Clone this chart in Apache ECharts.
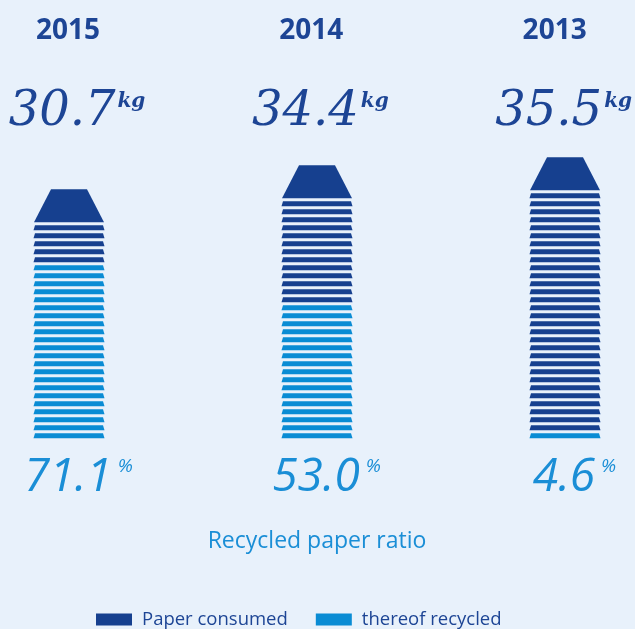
<!DOCTYPE html>
<html>
<head>
<meta charset="utf-8">
<script src="https://cdn.jsdelivr.net/npm/echarts@6/dist/echarts.min.js"></script>
<style>
  html, body { margin: 0; padding: 0; background: #e8f1fb; }
  #chart { width: 635px; height: 629px; }
</style>
</head>
<body>
<div id="chart"></div>
<script>
const years = ['2015', '2014', '2013'];
const paperKg = ['30.7', '34.4', '35.5'];
const recycledRatio = ['71.1', '53.0', '4.6'];
// number of sheets drawn in each pile
const totalSheets = [27, 30, 31];
const recycledSheets = [22, 17, 1];

const darkBlue = '#16408f';
const lightBlue = '#0a8cd4';
const textDark = '#1d4595';
const textLight = '#1a8ed6';

// one sheet = one unit on the y axis
function sheet(api, i, cx, color) {
  const t = api.coord([api.value(0), i + 1])[1];
  const b = api.coord([api.value(0), i])[1] - 3;
  return {
    type: 'polygon',
    shape: { points: [[cx - 34, t], [cx + 34, t], [cx + 35.5, b], [cx - 35.5, b]] },
    style: { fill: color }
  };
}

function renderConsumed(params, api) {
  const total = api.value(1), recycled = api.value(2);
  const cx = api.coord([api.value(0), 0])[0];
  const children = [];
  for (let i = recycled; i < total; i++) children.push(sheet(api, i, cx, darkBlue));
  // the top cover of the pile
  const b = api.coord([api.value(0), total])[1] - 3;
  children.push({
    type: 'polygon',
    shape: { points: [[cx - 18, b - 33], [cx + 18, b - 33], [cx + 35, b], [cx - 35, b]] },
    style: { fill: darkBlue }
  });
  return { type: 'group', children: children };
}

function renderRecycled(params, api) {
  const n = api.value(1);
  const cx = api.coord([api.value(0), 0])[0];
  const children = [];
  for (let i = 0; i < n; i++) children.push(sheet(api, i, cx, lightBlue));
  return { type: 'group', children: children };
}

const chart = echarts.init(document.getElementById('chart'));
chart.setOption({
  backgroundColor: '#e8f1fb',
  animation: false,
  title: {
    text: 'Recycled paper ratio',
    left: 312,
    top: 525,
    textAlign: 'center',
    textStyle: { color: textLight, fontFamily: 'Open Sans', fontWeight: 'normal', fontSize: 23 }
  },
  legend: {
    left: 96,
    top: 610,
    padding: 0,
    itemWidth: 36,
    itemHeight: 12,
    itemGap: 28,
    textStyle: { color: textDark, fontFamily: 'Open Sans', fontSize: 18.5, padding: [0, 0, 0, 5] },
    data: [
      { name: 'Paper consumed', icon: 'rect', itemStyle: { color: darkBlue } },
      { name: 'thereof recycled', icon: 'rect', itemStyle: { color: lightBlue } }
    ]
  },
  grid: [
    { left: 69, right: 70, top: 121.3, bottom: 187.7 },
    { left: 68, right: 80, top: 140, bottom: 300 }
  ],
  xAxis: [
    {
      gridIndex: 0, type: 'category', data: years, boundaryGap: false, position: 'bottom',
      axisLine: { show: false }, axisTick: { show: false }, splitLine: { show: false },
      axisLabel: {
        interval: 0, margin: 37, verticalAlign: 'middle', padding: [0, 0, 0, 19],
        formatter: (v, idx) => '{n|' + recycledRatio[idx] + '}{p|%}',
        rich: {
          n: { fontFamily: 'Open Sans', fontStyle: 'italic', fontSize: 46, color: textLight },
          p: { fontFamily: 'Open Sans', fontStyle: 'italic', fontSize: 19, color: textLight,
               verticalAlign: 'top', padding: [2, 0, 0, 6] }
        }
      }
    },
    {
      gridIndex: 1, type: 'category', data: years, boundaryGap: false, position: 'top',
      axisLine: { show: false }, axisTick: { show: false },
      axisLabel: {
        interval: 0, margin: 109, verticalAlign: 'middle',
        color: textDark, fontFamily: 'Open Sans', fontWeight: 'bold', fontSize: 28
      }
    },
    {
      gridIndex: 1, type: 'category', data: years, boundaryGap: false, position: 'top',
      axisLine: { show: false }, axisTick: { show: false },
      axisLabel: {
        interval: 0, margin: 27, verticalAlign: 'middle', padding: [0, 0, 0, 18],
        formatter: (v, idx) => '{n|' + paperKg[idx] + '}{u|kg}',
        rich: {
          n: { fontFamily: 'DejaVu Serif', fontStyle: 'italic', fontSize: 48, color: textDark },
          u: { fontFamily: 'DejaVu Serif', fontStyle: 'italic', fontWeight: 'bold', fontSize: 20,
               color: textDark, verticalAlign: 'top', padding: [3, 0, 0, 2] }
        }
      }
    }
  ],
  yAxis: [
    { gridIndex: 0, type: 'value', min: 0, max: 40, show: false },
    { gridIndex: 1, type: 'value', min: 0, max: 1, show: false }
  ],
  series: [
    {
      name: 'Paper consumed', type: 'custom', xAxisIndex: 0, yAxisIndex: 0,
      itemStyle: { color: darkBlue }, clip: false,
      renderItem: renderConsumed,
      encode: { x: 0, y: 1 },
      data: years.map((y, i) => [i, totalSheets[i], recycledSheets[i]])
    },
    {
      name: 'thereof recycled', type: 'custom', xAxisIndex: 0, yAxisIndex: 0,
      itemStyle: { color: lightBlue }, clip: false,
      renderItem: renderRecycled,
      encode: { x: 0, y: 1 },
      data: years.map((y, i) => [i, recycledSheets[i]])
    }
  ]
});
</script>
</body>
</html>
